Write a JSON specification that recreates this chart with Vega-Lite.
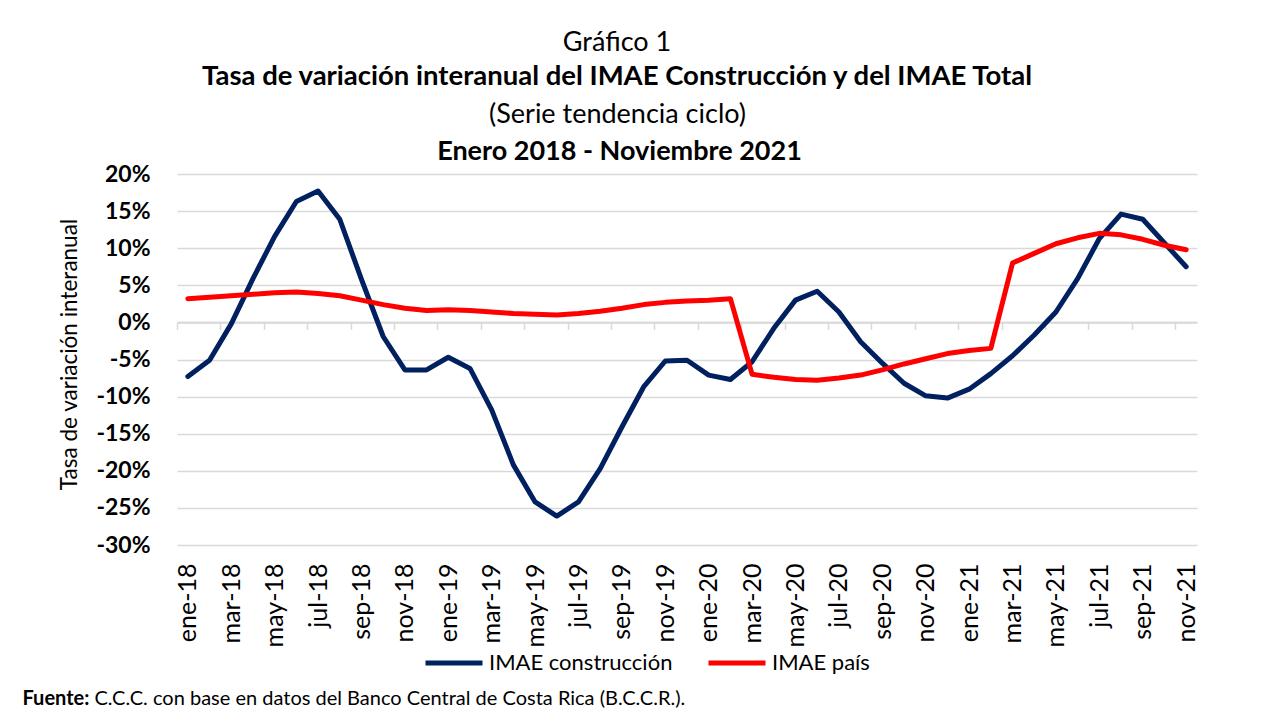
{
  "$schema": "https://vega.github.io/schema/vega-lite/v6.json",
  "width": 1020,
  "height": 371,
  "autosize": "none",
  "padding": {"left": 177, "top": 174, "right": 72, "bottom": 164},
  "background": "white",
  "config": {"font": "Lato", "view": {"stroke": null}},
  "title": {
    "text": "Gráfico 1",
    "subtitle": "Tasa de variación interanual del IMAE Construcción y del IMAE Total",
    "anchor": "middle",
    "frame": "group",
    "dx": -70,
    "offset": 9,
    "font": "Lato",
    "fontSize": 27,
    "fontWeight": "normal",
    "color": "black",
    "subtitleFont": "Lato",
    "subtitleFontSize": 27.5,
    "subtitleFontWeight": "bold",
    "subtitleColor": "black",
    "subtitlePadding": 6
  },
  "data": {
    "values": [
      {"mes": "ene-18", "serie": "IMAE construcción", "valor": -7.3},
      {"mes": "feb-18", "serie": "IMAE construcción", "valor": -5.1},
      {"mes": "mar-18", "serie": "IMAE construcción", "valor": -0.2},
      {"mes": "abr-18", "serie": "IMAE construcción", "valor": 5.9},
      {"mes": "may-18", "serie": "IMAE construcción", "valor": 11.6},
      {"mes": "jun-18", "serie": "IMAE construcción", "valor": 16.3},
      {"mes": "jul-18", "serie": "IMAE construcción", "valor": 17.7},
      {"mes": "ago-18", "serie": "IMAE construcción", "valor": 13.9},
      {"mes": "sep-18", "serie": "IMAE construcción", "valor": 5.8},
      {"mes": "oct-18", "serie": "IMAE construcción", "valor": -1.9},
      {"mes": "nov-18", "serie": "IMAE construcción", "valor": -6.4},
      {"mes": "dic-18", "serie": "IMAE construcción", "valor": -6.4},
      {"mes": "ene-19", "serie": "IMAE construcción", "valor": -4.7},
      {"mes": "feb-19", "serie": "IMAE construcción", "valor": -6.2},
      {"mes": "mar-19", "serie": "IMAE construcción", "valor": -11.8},
      {"mes": "abr-19", "serie": "IMAE construcción", "valor": -19.2},
      {"mes": "may-19", "serie": "IMAE construcción", "valor": -24.2},
      {"mes": "jun-19", "serie": "IMAE construcción", "valor": -26.1},
      {"mes": "jul-19", "serie": "IMAE construcción", "valor": -24.2},
      {"mes": "ago-19", "serie": "IMAE construcción", "valor": -19.7},
      {"mes": "sep-19", "serie": "IMAE construcción", "valor": -14.1},
      {"mes": "oct-19", "serie": "IMAE construcción", "valor": -8.7},
      {"mes": "nov-19", "serie": "IMAE construcción", "valor": -5.2},
      {"mes": "dic-19", "serie": "IMAE construcción", "valor": -5.1},
      {"mes": "ene-20", "serie": "IMAE construcción", "valor": -7.1},
      {"mes": "feb-20", "serie": "IMAE construcción", "valor": -7.7},
      {"mes": "mar-20", "serie": "IMAE construcción", "valor": -5.3},
      {"mes": "abr-20", "serie": "IMAE construcción", "valor": -0.8},
      {"mes": "may-20", "serie": "IMAE construcción", "valor": 3.0},
      {"mes": "jun-20", "serie": "IMAE construcción", "valor": 4.2},
      {"mes": "jul-20", "serie": "IMAE construcción", "valor": 1.4},
      {"mes": "ago-20", "serie": "IMAE construcción", "valor": -2.6},
      {"mes": "sep-20", "serie": "IMAE construcción", "valor": -5.5},
      {"mes": "oct-20", "serie": "IMAE construcción", "valor": -8.2},
      {"mes": "nov-20", "serie": "IMAE construcción", "valor": -9.9},
      {"mes": "dic-20", "serie": "IMAE construcción", "valor": -10.2},
      {"mes": "ene-21", "serie": "IMAE construcción", "valor": -9.0},
      {"mes": "feb-21", "serie": "IMAE construcción", "valor": -6.9},
      {"mes": "mar-21", "serie": "IMAE construcción", "valor": -4.5},
      {"mes": "abr-21", "serie": "IMAE construcción", "valor": -1.7},
      {"mes": "may-21", "serie": "IMAE construcción", "valor": 1.4},
      {"mes": "jun-21", "serie": "IMAE construcción", "valor": 5.9},
      {"mes": "jul-21", "serie": "IMAE construcción", "valor": 11.3},
      {"mes": "ago-21", "serie": "IMAE construcción", "valor": 14.6},
      {"mes": "sep-21", "serie": "IMAE construcción", "valor": 13.9},
      {"mes": "oct-21", "serie": "IMAE construcción", "valor": 10.7},
      {"mes": "nov-21", "serie": "IMAE construcción", "valor": 7.5},
      {"mes": "ene-18", "serie": "IMAE país", "valor": 3.2},
      {"mes": "feb-18", "serie": "IMAE país", "valor": 3.4},
      {"mes": "mar-18", "serie": "IMAE país", "valor": 3.6},
      {"mes": "abr-18", "serie": "IMAE país", "valor": 3.8},
      {"mes": "may-18", "serie": "IMAE país", "valor": 4.0},
      {"mes": "jun-18", "serie": "IMAE país", "valor": 4.1},
      {"mes": "jul-18", "serie": "IMAE país", "valor": 3.9},
      {"mes": "ago-18", "serie": "IMAE país", "valor": 3.6},
      {"mes": "sep-18", "serie": "IMAE país", "valor": 3.0},
      {"mes": "oct-18", "serie": "IMAE país", "valor": 2.4},
      {"mes": "nov-18", "serie": "IMAE país", "valor": 1.9},
      {"mes": "dic-18", "serie": "IMAE país", "valor": 1.6},
      {"mes": "ene-19", "serie": "IMAE país", "valor": 1.7},
      {"mes": "feb-19", "serie": "IMAE país", "valor": 1.6},
      {"mes": "mar-19", "serie": "IMAE país", "valor": 1.4},
      {"mes": "abr-19", "serie": "IMAE país", "valor": 1.2},
      {"mes": "may-19", "serie": "IMAE país", "valor": 1.1},
      {"mes": "jun-19", "serie": "IMAE país", "valor": 1.0},
      {"mes": "jul-19", "serie": "IMAE país", "valor": 1.2},
      {"mes": "ago-19", "serie": "IMAE país", "valor": 1.5},
      {"mes": "sep-19", "serie": "IMAE país", "valor": 1.9},
      {"mes": "oct-19", "serie": "IMAE país", "valor": 2.4},
      {"mes": "nov-19", "serie": "IMAE país", "valor": 2.7},
      {"mes": "dic-19", "serie": "IMAE país", "valor": 2.9},
      {"mes": "ene-20", "serie": "IMAE país", "valor": 3.0},
      {"mes": "feb-20", "serie": "IMAE país", "valor": 3.2},
      {"mes": "mar-20", "serie": "IMAE país", "valor": -7.0},
      {"mes": "abr-20", "serie": "IMAE país", "valor": -7.4},
      {"mes": "may-20", "serie": "IMAE país", "valor": -7.7},
      {"mes": "jun-20", "serie": "IMAE país", "valor": -7.8},
      {"mes": "jul-20", "serie": "IMAE país", "valor": -7.5},
      {"mes": "ago-20", "serie": "IMAE país", "valor": -7.1},
      {"mes": "sep-20", "serie": "IMAE país", "valor": -6.4},
      {"mes": "oct-20", "serie": "IMAE país", "valor": -5.6},
      {"mes": "nov-20", "serie": "IMAE país", "valor": -4.9},
      {"mes": "dic-20", "serie": "IMAE país", "valor": -4.2},
      {"mes": "ene-21", "serie": "IMAE país", "valor": -3.8},
      {"mes": "feb-21", "serie": "IMAE país", "valor": -3.5},
      {"mes": "mar-21", "serie": "IMAE país", "valor": 8.0},
      {"mes": "abr-21", "serie": "IMAE país", "valor": 9.3},
      {"mes": "may-21", "serie": "IMAE país", "valor": 10.6},
      {"mes": "jun-21", "serie": "IMAE país", "valor": 11.4},
      {"mes": "jul-21", "serie": "IMAE país", "valor": 12.0},
      {"mes": "ago-21", "serie": "IMAE país", "valor": 11.8},
      {"mes": "sep-21", "serie": "IMAE país", "valor": 11.2},
      {"mes": "oct-21", "serie": "IMAE país", "valor": 10.4},
      {"mes": "nov-21", "serie": "IMAE país", "valor": 9.8}
    ]
  },
  "resolve": {"axis": {"x": "independent", "y": "independent"}},
  "layer": [
    {
      "data": {"values": [{}]},
      "mark": {"type": "rule", "color": "#d9d9d9", "strokeWidth": 1.5},
      "encoding": {
        "y": {
          "datum": 0,
          "type": "quantitative",
          "axis": {
            "orient": "left",
            "labels": false,
            "ticks": false,
            "tickSize": 0,
            "domain": false,
            "grid": false,
            "title": "Fuente:",
            "titleFont": "Lato",
            "titleFontSize": 20,
            "titleFontWeight": "bold",
            "titleColor": "black",
            "titleAngle": 0,
            "titleAlign": "left",
            "titleBaseline": "alphabetic",
            "titleX": -155,
            "titleY": 530
          }
        }
      }
    },
    {
      "transform": [{"filter": "datum.serie == 'IMAE construcción'"}],
      "mark": {"type": "line", "strokeWidth": 5, "strokeJoin": "round", "strokeCap": "round"},
      "encoding": {
        "x": {
          "field": "mes",
          "type": "ordinal",
          "sort": null,
          "scale": {
            "type": "point",
            "padding": 0.5,
            "domain": ["ene-18","feb-18","mar-18","abr-18","may-18","jun-18","jul-18","ago-18","sep-18","oct-18","nov-18","dic-18","ene-19","feb-19","mar-19","abr-19","may-19","jun-19","jul-19","ago-19","sep-19","oct-19","nov-19","dic-19","ene-20","feb-20","mar-20","abr-20","may-20","jun-20","jul-20","ago-20","sep-20","oct-20","nov-20","dic-20","ene-21","feb-21","mar-21","abr-21","may-21","jun-21","jul-21","ago-21","sep-21","oct-21","nov-21"]
          },
          "axis": {
            "orient": "bottom",
            "values": ["ene-18","mar-18","may-18","jul-18","sep-18","nov-18","ene-19","mar-19","may-19","jul-19","sep-19","nov-19","ene-20","mar-20","may-20","jul-20","sep-20","nov-20","ene-21","mar-21","may-21","jul-21","sep-21","nov-21"],
            "labelAngle": -90,
            "labelAlign": "right",
            "labelBaseline": "middle",
            "labelFont": "Lato",
            "labelFontSize": 25,
            "labelColor": "black",
            "labelPadding": 18,
            "ticks": false,
            "tickSize": 0,
            "domain": false,
            "grid": false,
            "title": "Enero 2018 - Noviembre 2021",
            "titleFont": "Lato",
            "titleFontSize": 27,
            "titleFontWeight": "bold",
            "titleColor": "black",
            "titleAngle": 0,
            "titleAlign": "center",
            "titleBaseline": "alphabetic",
            "titleX": 442,
            "titleY": -386
          }
        },
        "y": {
          "field": "valor",
          "type": "quantitative",
          "scale": {"domain": [-30, 20], "nice": false, "zero": false},
          "axis": {
            "orient": "left",
            "values": [-30, -25, -20, -15, -10, -5, 0, 5, 10, 15, 20],
            "labelExpr": "datum.value + '%'",
            "labelFont": "Lato",
            "labelFontSize": 23,
            "labelFontWeight": "bold",
            "labelColor": "black",
            "labelPadding": 27,
            "ticks": false,
            "tickSize": 0,
            "domain": false,
            "grid": true,
            "gridColor": "#d9d9d9",
            "gridWidth": 1.5,
            "title": "Tasa de variación interanual",
            "titleFont": "Lato",
            "titleFontSize": 22.5,
            "titleFontWeight": "normal",
            "titleColor": "black",
            "titleAngle": 270,
            "titleAlign": "center",
            "titleBaseline": "middle",
            "titleX": -108,
            "titleY": 180
          }
        },
        "color": {
          "field": "serie",
          "type": "nominal",
          "scale": {"domain": ["IMAE construcción", "IMAE país"], "range": ["#002060", "#ff0000"]},
          "legend": {
            "title": null,
            "orient": "none",
            "direction": "horizontal",
            "legendX": 246,
            "legendY": 458,
            "symbolType": "stroke",
            "symbolSize": 3249,
            "symbolStrokeWidth": 5,
            "labelFont": "Lato",
            "labelFontSize": 22,
            "labelColor": "black",
            "labelOffset": 4,
            "labelLimit": 0,
            "columnPadding": 25
          }
        }
      }
    },
    {
      "transform": [{"filter": "datum.serie == 'IMAE país'"}],
      "mark": {"type": "line", "strokeWidth": 5, "strokeJoin": "round", "strokeCap": "round"},
      "encoding": {
        "x": {
          "field": "mes",
          "type": "ordinal",
          "sort": null,
          "axis": {
            "orient": "bottom",
            "offset": -222.6,
            "values": ["ene-18","mar-18","may-18","jul-18","sep-18","nov-18","ene-19","mar-19","may-19","jul-19","sep-19","nov-19","ene-20","mar-20","may-20","jul-20","sep-20","nov-20","ene-21","mar-21","may-21","jul-21","sep-21","nov-21"],
            "labels": false,
            "ticks": true,
            "tickSize": 7,
            "tickColor": "#d9d9d9",
            "tickWidth": 1.5,
            "tickOffset": -10.85,
            "domain": true,
            "domainColor": "#d9d9d9",
            "domainWidth": 1.5,
            "grid": false,
            "title": "C.C.C. con base en datos del Banco Central de Costa Rica (B.C.C.R.).",
            "titleFont": "Lato",
            "titleFontSize": 20,
            "titleFontWeight": "normal",
            "titleColor": "black",
            "titleAngle": 0,
            "titleAlign": "left",
            "titleBaseline": "alphabetic",
            "titleX": -83,
            "titleY": 381.6
          }
        },
        "y": {
          "field": "valor",
          "type": "quantitative",
          "axis": {
            "orient": "left",
            "labels": false,
            "ticks": false,
            "tickSize": 0,
            "domain": false,
            "grid": false,
            "title": "(Serie tendencia ciclo)",
            "titleFont": "Lato",
            "titleFontSize": 27,
            "titleFontWeight": "normal",
            "titleColor": "black",
            "titleAngle": 0,
            "titleAlign": "center",
            "titleBaseline": "alphabetic",
            "titleX": 440,
            "titleY": -52
          }
        },
        "color": {"field": "serie", "type": "nominal"}
      }
    }
  ]
}
